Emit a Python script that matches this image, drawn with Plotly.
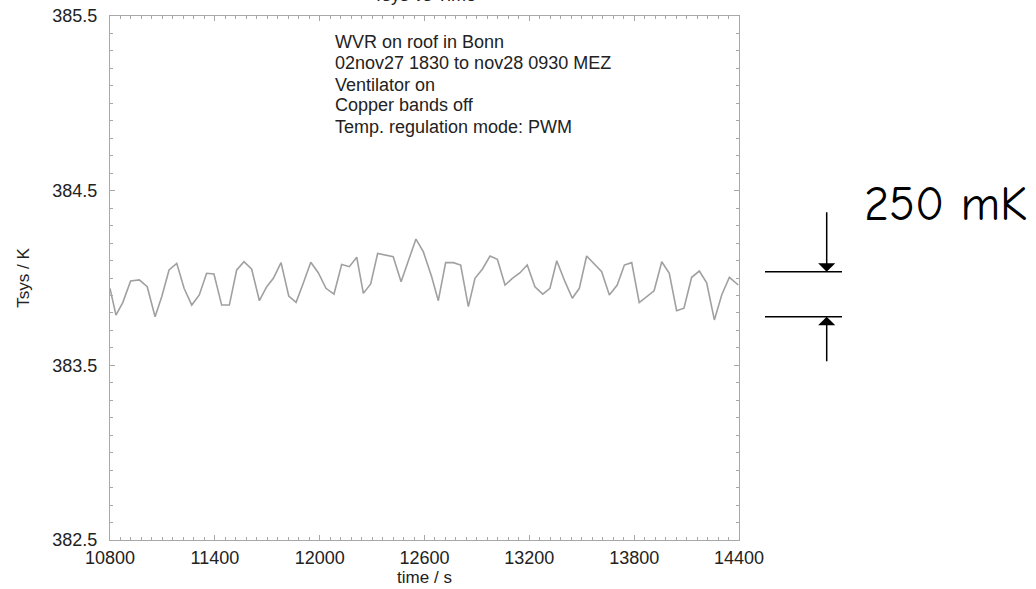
import plotly.graph_objects as go

time_s = [10800, 10834, 10873, 10918, 10968, 11013, 11058, 11096, 11138, 11182,
          11224, 11268, 11311, 11353, 11395, 11439, 11483, 11525, 11567, 11611,
          11655, 11697, 11735, 11779, 11823, 11865, 11906, 11949, 11992, 12036,
          12082, 12126, 12170, 12212, 12250, 12292, 12332, 12380, 12421, 12466,
          12507, 12551, 12593, 12641, 12679, 12721, 12765, 12807, 12851, 12889,
          12931, 12975, 13017, 13061, 13103, 13147, 13188, 13232, 13277, 13318,
          13357, 13404, 13446, 13486, 13528, 13570, 13614, 13658, 13703, 13744,
          13786, 13829, 13872, 13914, 13958, 14001, 14043, 14085, 14129, 14173,
          14215, 14259, 14301, 14345, 14396]
tsys_K = [383.941, 383.788, 383.859, 383.983, 383.989, 383.950, 383.778, 383.893, 384.046, 384.084,
          383.941, 383.845, 383.903, 384.027, 384.023, 383.845, 383.845, 384.046, 384.093, 384.050,
          383.870, 383.950, 383.998, 384.088, 383.897, 383.861, 383.970, 384.090, 384.030, 383.941,
          383.908, 384.078, 384.065, 384.119, 383.912, 383.966, 384.141, 384.132, 384.122, 383.979,
          384.103, 384.223, 384.151, 384.007, 383.870, 384.088, 384.088, 384.074, 383.836, 383.998,
          384.050, 384.126, 384.107, 383.960, 383.998, 384.030, 384.074, 383.950, 383.908, 383.941,
          384.099, 383.979, 383.884, 383.941, 384.126, 384.084, 384.036, 383.903, 383.960, 384.074,
          384.088, 383.859, 383.893, 383.927, 384.093, 384.027, 383.813, 383.827, 384.004, 384.040,
          383.973, 383.760, 383.903, 384.004, 383.960]

x_ticks = [10800, 11400, 12000, 12600, 13200, 13800, 14400]
y_ticks = [382.5, 383.5, 384.5, 385.5]
info_lines = ["WVR on roof in Bonn", "02nov27 1830 to nov28 0930 MEZ", "Ventilator on",
              "Copper bands off", "Temp. regulation mode: PWM"]
band_top = 384.036
band_bottom = 383.778

FONT = "Liberation Sans, Arial, Helvetica, sans-serif"
TXT = "#222222"
AX = "#a8a8a8"

fig = go.Figure()
fig.add_trace(go.Scatter(x=time_s, y=tsys_K, mode="lines",
                         line=dict(color="#a0a0a0", width=1.6), showlegend=False))

axis_common = dict(showline=True, linecolor=AX, linewidth=1.2, mirror="allticks",
                   ticks="inside", tickcolor=AX, tickwidth=1, ticklen=5,
                   showgrid=False, zeroline=False, automargin=False,
                   tickfont=dict(family=FONT, size=18, color=TXT))

fig.update_xaxes(range=[10800, 14400], tickvals=x_ticks,
                 ticktext=[str(v) for v in x_ticks],
                 minor=dict(ticks="inside", dtick=60, tick0=10800, ticklen=3, tickcolor=AX),
                 title=dict(text="time / s", font=dict(family=FONT, size=17, color=TXT), standoff=2),
                 ticklabelstandoff=1,
                 **axis_common)
fig.update_yaxes(range=[382.5, 385.5], tickvals=y_ticks,
                 ticktext=[f"{v:.1f}" for v in y_ticks],
                 minor=dict(ticks="inside", dtick=0.1, tick0=382.5, ticklen=3, tickcolor=AX),
                 title=dict(text="Tsys / K", font=dict(family=FONT, size=17, color=TXT), standoff=18),
                 ticklabelstandoff=8,
                 **axis_common)

annotations = []
# title, cut off at the top edge as in the reference
annotations.append(dict(text="Tsys vs Time", x=0.5, y=1, xref="paper", yref="paper",
                        xanchor="center", yanchor="bottom", yshift=9, showarrow=False,
                        font=dict(family=FONT, size=18, color=TXT)))
line_px = [42, 63, 84.5, 105.5, 126.5]
for txt, py in zip(info_lines, line_px):
    annotations.append(dict(text=txt, x=(333 - 110) / 629, y=(540 - py) / 524,
                            xref="paper", yref="paper", xanchor="left", yanchor="middle",
                            showarrow=False, font=dict(family=FONT, size=18, color=TXT)))
annotations.append(dict(text="250 mK", x=(945 - 110) / 629, y=(540 - 204) / 524,
                        xref="paper", yref="paper", xanchor="center", yanchor="middle",
                        showarrow=False,
                        font=dict(family="Comic Sans MS, Comic Neue, DejaVu Sans", size=48,
                                  color="#000000")))
arrow_x = (826.7 - 110) / 629
annotations.append(dict(x=arrow_x, y=band_top, xref="paper", yref="y", text="",
                        showarrow=True, arrowhead=1, arrowsize=1.9, arrowwidth=1.5,
                        arrowcolor="#000000", ax=0, ay=-61, standoff=0))
annotations.append(dict(x=arrow_x, y=band_bottom, xref="paper", yref="y", text="",
                        showarrow=True, arrowhead=1, arrowsize=1.9, arrowwidth=1.5,
                        arrowcolor="#000000", ax=0, ay=46, standoff=0))

shapes = []
for yv in (band_top, band_bottom):
    shapes.append(dict(type="line", xref="paper", yref="y",
                       x0=(765 - 110) / 629, x1=(842 - 110) / 629, y0=yv, y1=yv,
                       line=dict(color="#000000", width=1.6)))

fig.update_layout(width=1036, height=589,
                  margin=dict(l=110, r=297, t=16, b=49, autoexpand=False),
                  paper_bgcolor="white", plot_bgcolor="white",
                  annotations=annotations, shapes=shapes,
                  font=dict(family=FONT, color=TXT))

fig.write_html("out.html", config={"displayModeBar": False},
               post_script="document.body.style.margin='0';document.body.style.overflow='hidden';")
